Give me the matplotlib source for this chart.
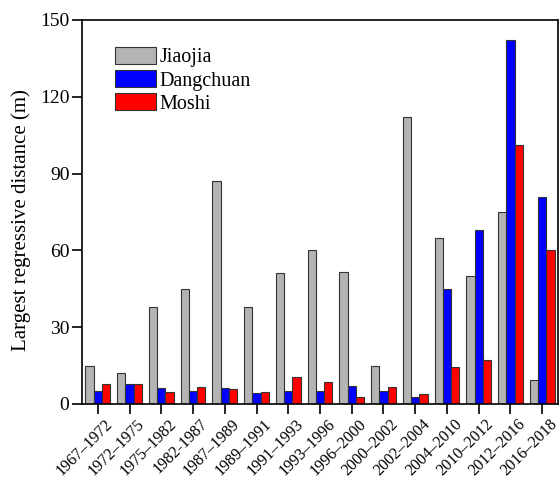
import matplotlib
matplotlib.use("Agg")
import matplotlib.pyplot as plt
import matplotlib.transforms as mtransforms
import numpy as np

plt.rcParams['font.family'] = ['Liberation Serif', 'DejaVu Serif']

periods = ["1967–1972", "1972–1975", "1975–1982", "1982-1987", "1987–1989",
           "1989–1991", "1991–1993", "1993–1996", "1996–2000", "2000–2002",
           "2002–2004", "2004–2010", "2010–2012", "2012–2016", "2016–2018"]
jiaojia = [15, 12, 38, 45, 87, 38, 51, 60, 51.5, 15, 112, 65, 50, 75, 9.5]
dangchuan = [5, 8, 6.4, 5, 6.4, 4.2, 5.2, 5.1, 7.2, 5.1, 2.7, 45, 68, 142, 81]
moshi = [8, 8, 4.8, 6.8, 5.9, 4.8, 10.4, 8.7, 2.9, 6.8, 3.9, 14.3, 17.2, 101, 60]

series = [("Jiaojia", jiaojia, "#b4b4b4"),
          ("Dangchuan", dangchuan, "#0000ff"),
          ("Moshi", moshi, "#ff0000")]

fig = plt.figure(figsize=(5.6, 4.79), dpi=100)
ax = fig.add_axes([82/560, 1 - 404/479, (558 - 82)/560, (404 - 20)/479])

x = np.arange(len(periods))
w = 0.26
for i, (name, vals, col) in enumerate(series):
    ax.bar(x + (i - 1) * w, vals, width=w, color=col, edgecolor="#333333",
           linewidth=0.8, label=name)

ax.set_xlim(-0.5, len(periods) - 0.5)
ax.set_ylim(0, 150)
ax.set_yticks([0, 30, 60, 90, 120, 150])
ax.set_xticks(x)
ax.set_xticklabels([])

# slanted period labels, set a little to the right of each tick
label_trans = ax.get_xaxis_transform() + mtransforms.ScaledTranslation(
    0.07, -0.12, fig.dpi_scale_trans)
for xi, name in zip(x, periods):
    ax.text(xi, 0, name, transform=label_trans, rotation=45, ha="right",
            va="top", rotation_mode="anchor", fontsize=11.6, clip_on=False)

ax.tick_params(axis="y", labelsize=14, direction="out", length=7, width=1.2,
               pad=2)
ax.tick_params(axis="x", direction="out", length=7, width=1.2, pad=0)
ax.set_ylabel("Largest regressive distance (m)", fontsize=15)
ax.yaxis.set_label_coords(-0.107, 0.48)
for s in ax.spines.values():
    s.set_linewidth(1.2)

ax.legend(loc="upper left", bbox_to_anchor=(0.07, 0.93), frameon=False,
          fontsize=14.5, handlelength=2.0, handleheight=0.95,
          handletextpad=0.2, labelspacing=0.12, borderaxespad=0,
          borderpad=0)

fig.savefig("out.png", dpi=100)
